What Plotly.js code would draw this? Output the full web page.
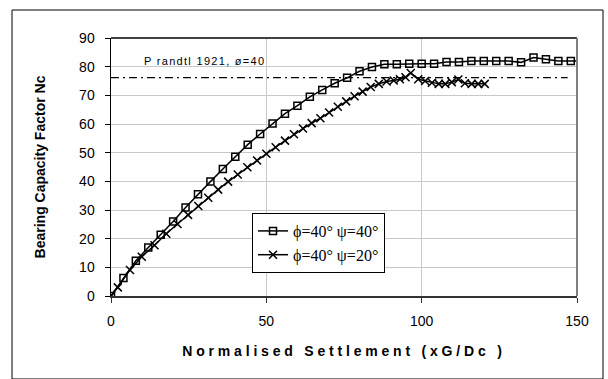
<!DOCTYPE html>
<html>
<head>
<meta charset="utf-8">
<script src="https://cdn.plot.ly/plotly-3.0.1.min.js"></script>
<style>
html,body{margin:0;padding:0;background:#fff;}
#chart{width:608px;height:379px;}
</style>
</head>
<body>
<div id="chart"></div>
<script>
// Series 1: phi=40 psi=40 (square markers)
const settlementPsi40 = [0,4,8,12,16,20,24,28,32,36,40,44,48,52,56,60,64,68,72,76,80,84,88,92,96,100,104,108,112,116,120,124,128,132,136,140,144,148,152];
const ncPsi40 = [0,6.3,12.3,16.9,21.4,26.0,30.9,35.5,39.9,44.3,48.6,52.8,56.5,60.2,63.6,66.4,69.5,71.9,74.2,76.1,78.4,79.9,80.8,80.8,81.0,81.0,81.0,81.6,81.6,82.0,82.0,82.0,82.0,81.5,83.2,82.6,82.0,82.0,82.0];

// Series 2: phi=40 psi=20 (cross markers)
const settlementPsi20 = [0,2.2,6.1,9.9,14.0,17.8,21.4,24.8,28.1,31.3,34.5,37.7,40.8,43.9,47.0,50.0,53.0,56.0,58.9,61.8,64.6,67.4,70.2,73.0,75.7,78.4,81.0,83.6,86.2,88.7,91.0,93.0,94.8,96.5,98.9,101.1,103.3,105.5,107.6,109.7,111.8,113.9,116.1,118.2,120.3];
const ncPsi20 = [0,3.0,9.1,13.7,17.7,21.7,25.1,28.3,31.4,34.3,37.1,39.9,42.4,44.9,47.3,49.6,51.9,54.2,56.4,58.4,60.3,62.0,64.0,66.0,67.9,69.7,71.3,72.9,74.0,74.8,75.2,75.6,76.3,77.8,75.6,75.0,74.4,74.0,74.0,74.6,75.5,74.2,74.0,74.0,74.0];

// Prandtl (1921) reference value
const prandtlX = [0,147];
const prandtlNc = [76.2,76.2];

const seriesNames = ['\u03D5=40\u00B0 \u03C8=40\u00B0','\u03D5=40\u00B0 \u03C8=20\u00B0'];
const prandtlLabel = 'P randtl 1921, \u00F8=40';
const xTicks = [0,50,100,150];

const traces = [
  {x: settlementPsi40, y: ncPsi40, name: seriesNames[0], type:'scatter', mode:'lines+markers',
   line:{color:'#000', width:1.5},
   marker:{symbol:'square-open', size:7, color:'#000', line:{width:1.5, color:'#000'}}},
  {x: settlementPsi20, y: ncPsi20, name: seriesNames[1], type:'scatter', mode:'lines+markers',
   line:{color:'#000', width:1.5},
   marker:{symbol:'x-thin-open', size:8, color:'#000', line:{width:1.5, color:'#000'}}},
  {x: prandtlX, y: prandtlNc, type:'scatter', mode:'lines', showlegend:false, hoverinfo:'skip',
   line:{color:'#000', width:1.3, dash:'8px,4px,2px,4px'}}
];

const layout = {
  width:608, height:379,
  margin:{l:111, r:31, t:38, b:83, pad:0},
  paper_bgcolor:'#fff', plot_bgcolor:'#fff',
  font:{family:'Liberation Sans, Arial, sans-serif', color:'#000', size:14},
  showlegend:true,
  legend:{x:0.3026, y:0.3217, xanchor:'left', yanchor:'top',
    bgcolor:'#fff', bordercolor:'#000', borderwidth:1,
    font:{family:'Liberation Serif, Times New Roman, serif', size:16, color:'#000'},
    tracegroupgap:0, itemwidth:30},
  xaxis:{range:[0,150], tickvals:xTicks, ticktext:xTicks.map(String),
    showgrid:true, gridcolor:'#c8c8c8', gridwidth:1, zeroline:false,
    ticks:'outside', ticklen:5, tickcolor:'#333', tickwidth:1,
    showline:true, linecolor:'#333', linewidth:1.5,
    tickfont:{size:14, family:'Liberation Sans, Arial, sans-serif'},
    ticklabelstandoff:7,
    title:{text:'Normalised Settlement (xG/Dc )', standoff:18,
      font:{size:14, family:'Liberation Sans, Arial, sans-serif', weight:'bold'}}},
  yaxis:{range:[0,90], dtick:10, tick0:0,
    showgrid:true, gridcolor:'#c8c8c8', gridwidth:1, zeroline:false,
    ticks:'outside', ticklen:5, tickcolor:'#000', tickwidth:1,
    showline:true, linecolor:'#000', linewidth:1.5,
    tickfont:{size:14, family:'Liberation Sans, Arial, sans-serif'},
    ticklabelstandoff:7,
    title:{text:'Bearing Capacity Factor Nc', standoff:30,
      font:{size:14, family:'Liberation Sans, Arial, sans-serif', weight:'bold'}}},
  annotations:[
    {x:10.0, y:82.0, xref:'x', yref:'y', text:prandtlLabel, showarrow:false,
     xanchor:'left', yanchor:'middle', align:'left',
     font:{size:11, family:'Liberation Sans, Arial, sans-serif', color:'#000'}}
  ],
  shapes:[
    {type:'line', xref:'paper', yref:'paper', x0:0, x1:1, y0:1, y1:1, line:{color:'#000', width:1.5}},
    {type:'line', xref:'paper', yref:'paper', x0:1, x1:1, y0:0, y1:1, line:{color:'#808080', width:2}},
    {type:'rect', xref:'paper', yref:'paper', x0:-0.2124, x1:1.0558, y0:-0.3217, y1:1.1085, line:{color:'#000', width:1}}
  ]
};

Plotly.newPlot('chart', traces, layout, {displayModeBar:false, staticPlot:true}).then(function(gd){
  var xt = gd.querySelector('.xtitle');
  if (xt) xt.style.letterSpacing = '3.8px';
  var ann = gd.querySelectorAll('.annotation-text');
  ann.forEach(function(a){ a.style.letterSpacing = '1.3px'; });
});
</script>
</body>
</html>
